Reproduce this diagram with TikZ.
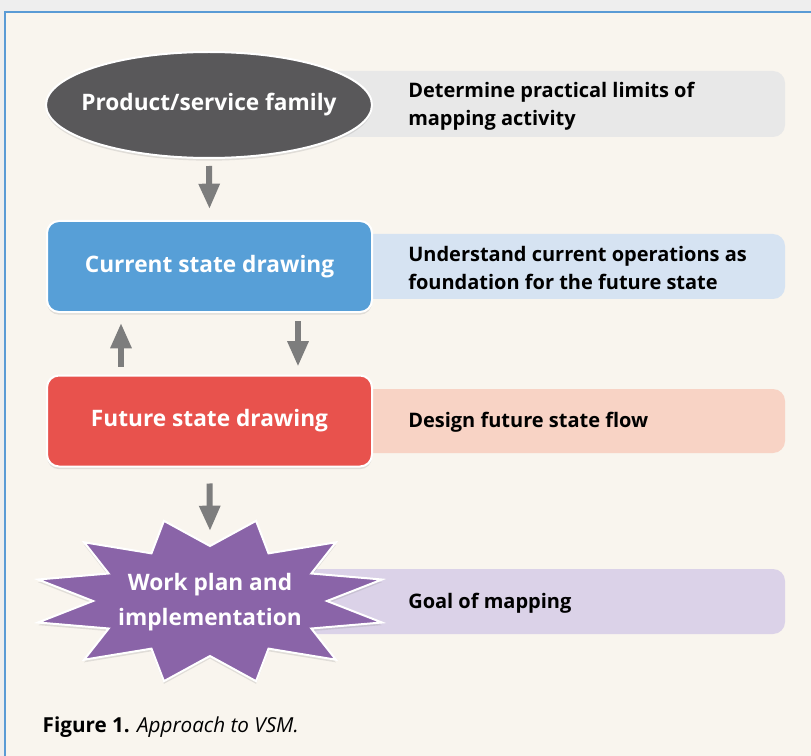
\documentclass[tikz,border=0pt]{standalone}
\usepackage{fontspec}
\setmainfont{Open Sans}
\usetikzlibrary{arrows.meta,calc,shadows,shapes.geometric,positioning}

\definecolor{outergray}{HTML}{EEEEEE}
\definecolor{cream}{HTML}{F9F5EE}
\definecolor{frameblue}{HTML}{5A9BD5}
\definecolor{famgray}{HTML}{59585A}
\definecolor{famband}{HTML}{E8E8E8}
\definecolor{curblue}{HTML}{579FD7}
\definecolor{curband}{HTML}{D6E3F2}
\definecolor{futred}{HTML}{E8524D}
\definecolor{futband}{HTML}{F8D3C5}
\definecolor{planpurple}{HTML}{8A64A8}
\definecolor{planband}{HTML}{DBD2E8}
\definecolor{arrowgray}{HTML}{7D7D7D}

\begin{document}
\begin{tikzpicture}[
        x=0.75pt, y=-0.75pt,
        shade/.style={drop shadow={shadow xshift=0pt, shadow yshift=-2pt, opacity=0.2}},
        box/.style={rectangle, rounded corners=9pt, draw=white, line width=1.5pt,
            minimum width=243.75pt, minimum height=68.25pt, text=white,
            font=\bfseries\fontsize{17}{21}\selectfont, shade},
        band/.style={rounded corners=9pt},
        note/.style={anchor=west, align=left, inner sep=0pt,
            font=\bfseries\fontsize{15}{21}\selectfont},
        flow/.style={draw=arrowgray, line width=4.5pt,
            -{Triangle[width=15pt,length=19pt]}}
    ]
    \useasboundingbox (0,0) rectangle (811,756);
    % frame
    \fill[outergray] (0,0) rectangle (811,756);
    \fill[cream] (5,12) rectangle (811,756);
    \draw[frameblue, line width=1.5pt] (5,756) -- (5,12) -- (811,12);

    % bands
    \fill[band, famband] (300,71) rectangle (785,137);
    \fill[band, curband] (330,234) rectangle (785,299);
    \fill[band, futband] (330,389) rectangle (785,453);
    \fill[band, planband] (250,569) rectangle (785,634);

    % steps
    \node [ellipse, fill=famgray, draw=white, line width=1.5pt, shade,
        inner xsep=-14pt, minimum width=244.5pt, minimum height=79.5pt, text=white,
        font=\bfseries\fontsize{17}{21}\selectfont] (fam) at (209,105) {Product/service family};
    \node [box, fill=curblue] (cur) at (209.5,266.5) {Current state drawing};
    \node [box, fill=futred] (fut) at (209.5,421) {Future state drawing};
    \fill[planpurple, draw=white, line width=1.5pt, shade]
        plot[variable=\k, samples at={0,...,23}]
        ({210+(iseven(\k)?178:117)*cos(15+15*\k)}, {601-(iseven(\k)?83:55)*sin(15+15*\k)}) -- cycle;
    \node [text=white, align=center, font=\bfseries\fontsize{17}{26}\selectfont] (plan) at (210,602)
        {Work plan and\\implementation};

    % notes
    \node [note] (famnote) at (408,106) {Determine practical limits of\\mapping activity};
    \node [note] (curnote) at (408,268) {Understand current operations as\\foundation for the future state};
    \node [note] (futnote) at (408,422) {Design future state flow};
    \node [note] (plannote) at (408,603) {Goal of mapping};

    % arrows
    \draw [flow] ($(fam.south)+(0,7)$) -- ($(cur.north)+(0,-11)$);
    \draw [flow] ($(cur.south)+(88.5,8)$) -- ($(fut.north)+(88.5,-8)$);
    \draw [flow] ($(fut.north)+(-88.5,-8)$) -- ($(cur.south)+(-88.5,10)$);
    \draw [flow] ($(fut.south)+(0,16)$) -- ($(plan.center)+(0,-71)$);

    \node [anchor=west, font=\fontsize{15.5}{18}\selectfont] (caption) at (38,727)
        {\textbf{Figure 1.} \textit{Approach to VSM.}};
\end{tikzpicture}
\end{document}
